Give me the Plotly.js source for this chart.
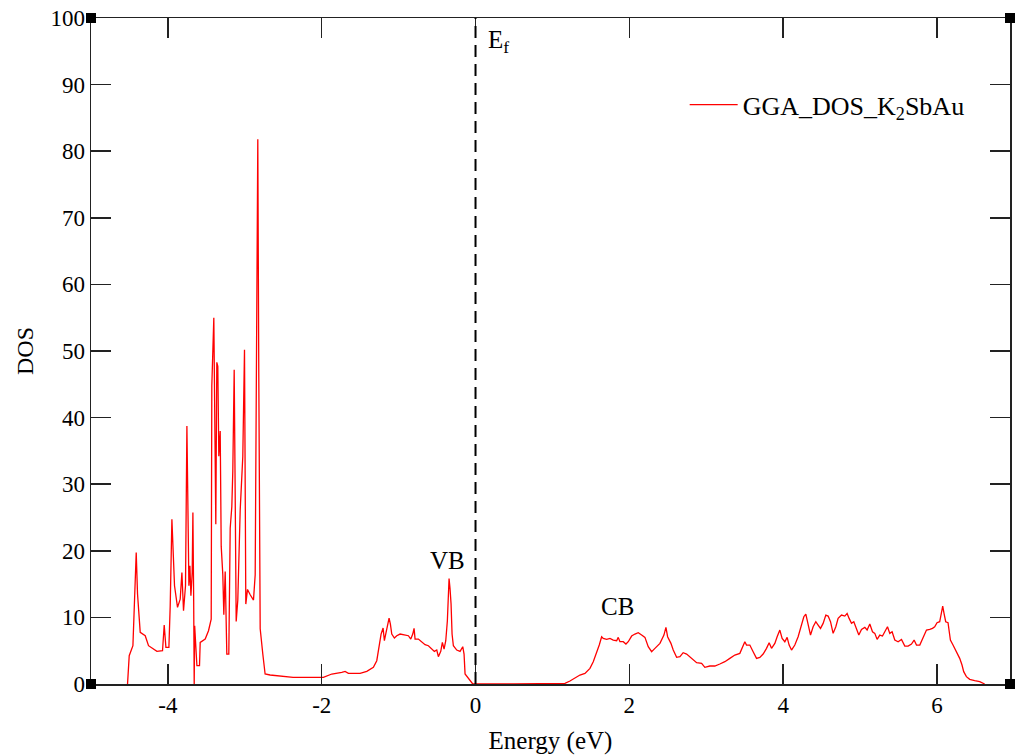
<!DOCTYPE html>
<html>
<head>
<meta charset="utf-8">
<script src="https://cdn.plot.ly/plotly-3.0.1.min.js"></script>
<style>
  html, body { margin: 0; padding: 0; background: #fff; }
  #chart { width: 1015px; height: 756px; }
</style>
</head>
<body>
<div id="chart"></div>
<script>
// Energy (eV) relative to Fermi level
const energy = [
  -4.525, -4.503, -4.455, -4.429, -4.412, -4.395, -4.360, -4.295, -4.252, -4.143,
  -4.070, -4.048, -4.026, -3.987, -3.970, -3.948, -3.935, -3.914, -3.875, -3.840,
  -3.818, -3.797, -3.771, -3.753, -3.740, -3.727, -3.714, -3.701, -3.684, -3.675,
  -3.665, -3.658, -3.652, -3.623, -3.589, -3.580, -3.515, -3.472, -3.437,
  -3.429, -3.403, -3.385, -3.377, -3.364, -3.351, -3.338, -3.320, -3.307, -3.286,
  -3.273, -3.255, -3.234, -3.208, -3.190, -3.169, -3.156, -3.138, -3.125, -3.112,
  -3.091, -3.060, -3.026, -3.004, -2.987, -2.965, -2.930, -2.887, -2.865, -2.844,
  -2.831, -2.818, -2.800, -2.766, -2.736, -2.671, -2.541, -2.372, -1.978, -1.913,
  -1.869, -1.739, -1.696, -1.653, -1.501, -1.414, -1.328, -1.284, -1.254, -1.228,
  -1.202, -1.185, -1.163, -1.146, -1.124, -1.107, -1.089, -1.055, -1.024, -0.981,
  -0.916, -0.873, -0.842, -0.816, -0.799, -0.786, -0.743, -0.699, -0.656, -0.613,
  -0.569, -0.535, -0.504, -0.483, -0.452, -0.431, -0.409, -0.387, -0.366, -0.344,
  -0.331, -0.318, -0.305, -0.288, -0.244, -0.201, -0.166, -0.149, -0.136, -0.094,
  -0.036, 0.500, 1.011,
  1.163, 1.228, 1.293, 1.358, 1.423, 1.488, 1.531, 1.575, 1.609, 1.640,
  1.661, 1.705, 1.748, 1.791, 1.835, 1.856, 1.878, 1.921, 1.956, 1.986,
  2.030, 2.073, 2.116, 2.160, 2.203, 2.246, 2.290, 2.333, 2.398, 2.450,
  2.476, 2.498, 2.541, 2.571, 2.615, 2.658, 2.700, 2.745, 2.810, 2.875,
  2.940, 2.982, 3.047, 3.112, 3.177, 3.242, 3.307, 3.372, 3.437, 3.502,
  3.524, 3.567, 3.610, 3.654, 3.697,
  3.740, 3.784, 3.818, 3.849, 3.892, 3.922, 3.957, 3.987, 4.022, 4.052,
  4.078, 4.109, 4.152, 4.195, 4.239, 4.269, 4.295, 4.325, 4.356, 4.390,
  4.425, 4.455, 4.486, 4.520, 4.555, 4.585, 4.616, 4.650, 4.685, 4.715,
  4.759, 4.802, 4.832, 4.858, 4.889, 4.919, 4.954, 4.984, 5.019, 5.062,
  5.092, 5.127, 5.162, 5.192, 5.222, 5.257, 5.292, 5.322, 5.357, 5.387,
  5.417, 5.452, 5.495, 5.539, 5.582, 5.625, 5.669, 5.703, 5.734, 5.777,
  5.820, 5.864, 5.907, 5.942, 5.971, 6.001, 6.036, 6.058, 6.075, 6.092,
  6.114, 6.144, 6.175, 6.209, 6.253, 6.296, 6.326, 6.348, 6.383, 6.426,
  6.491, 6.556, 6.621
];

// Density of states
const dos = [
  0, 4.25, 5.75, 14.75, 19.75, 13.5, 7.75, 7.25, 5.75, 4.9,
  5.0, 8.85, 5.5, 5.5, 11.75, 24.75, 19.75, 14.75, 11.5, 12.75,
  16.75, 11.0, 14.75, 38.75, 26.75, 14.75, 17.75, 13.25, 16.75, 25.75,
  12.75, 0, 8.75, 2.75, 2.75, 6.25, 6.75, 8.0, 9.75,
  44.8, 55.0, 37.5, 24.0, 48.3, 47.7, 34.2, 38.0, 20.7, 16.4,
  10.4, 16.9, 4.5, 4.5, 23.4, 26.6, 32.0, 47.2, 28.3, 9.4,
  12.6, 26.1, 34.2, 50.2, 12.0, 14.2, 13.4, 12.6, 16.4, 50.2,
  81.8, 46.1, 8.3, 4.5, 1.5, 1.35, 1.15, 1.0, 1.0, 1.25,
  1.5, 1.75, 1.9, 1.6, 1.6, 1.9, 2.5, 3.5, 5.5, 7.5,
  8.4, 6.5, 7.75, 8.5, 9.9, 9.0, 7.5, 6.9, 7.25, 7.5,
  7.4, 7.25, 6.75, 7.5, 8.35, 6.75, 6.75, 6.25, 5.9, 5.75,
  5.25, 4.9, 5.1, 4.1, 4.9, 6.25, 5.25, 6.5, 9.5, 15.85,
  14.25, 12.0, 7.5, 5.75, 5.1, 4.9, 5.6, 4.5, 1.5, 0.9,
  0, 0, 0,
  0.1, 0.45, 0.85, 1.35, 1.6, 2.35, 3.35, 4.6, 5.85, 7.1,
  6.85, 6.7, 6.85, 6.6, 6.5, 7.0, 6.35, 6.35, 6.0, 6.35,
  7.2, 7.5, 7.7, 7.35, 7.0, 5.6, 4.85, 5.35, 6.1, 7.35,
  8.5, 7.1, 6.1, 5.1, 4.0, 4.1, 4.7, 4.5, 3.85, 3.2,
  3.1, 2.5, 2.7, 2.7, 3.0, 3.35, 3.85, 4.35, 4.6, 6.35,
  5.85, 5.85, 4.85, 3.85, 4.0,
  4.5, 5.35, 6.2, 5.35, 6.1, 7.1, 8.1, 6.85, 6.35, 7.0,
  5.85, 5.1, 5.85, 7.1, 9.1, 10.1, 10.5, 9.1, 7.35, 8.6,
  9.35, 8.85, 8.35, 9.1, 10.35, 10.2, 9.35, 7.6, 8.6, 9.85,
  10.35, 10.2, 10.6, 9.85, 9.1, 9.35, 8.1, 7.35, 8.2, 8.5,
  8.1, 9.0, 7.85, 7.6, 6.7, 7.35, 7.2, 7.85, 8.6, 7.6,
  7.85, 6.6, 6.35, 6.7, 5.7, 5.7, 6.0, 6.6, 5.85, 5.85,
  7.1, 8.1, 8.2, 8.35, 8.6, 9.2, 9.35, 10.6, 11.7, 10.6,
  9.35, 9.2, 6.6, 5.85, 4.85, 3.85, 2.85, 1.85, 1.1, 0.7,
  0.5, 0.35, 0
];

const xTicks = [-4, -2, 0, 2, 4, 6];
const yTicks = [0, 10, 20, 30, 40, 50, 60, 70, 80, 90, 100];
const seriesName = 'GGA_DOS_K<sub>2</sub>SbAu';
const fermiEnergy = 0;
const labels = [
  {text: 'E<sub>f</sub>', x: 0.14, y: 96.5, anchor: 'left'},
  {text: 'VB', x: -0.37, y: 18.6, anchor: 'center'},
  {text: 'CB', x: 1.84, y: 11.6, anchor: 'center'}
];

const serif = 'Liberation Serif, Times New Roman, serif';

const trace = {
  x: energy, y: dos, type: 'scatter', mode: 'lines',
  name: seriesName,
  line: {color: '#ff0000', width: 1.3}
};

function cornerSquare(px, py) {
  return {
    type: 'rect', xref: 'paper', yref: 'paper',
    xsizemode: 'pixel', ysizemode: 'pixel',
    xanchor: px, yanchor: py,
    x0: -5, x1: 5, y0: -5, y1: 5,
    fillcolor: '#000', line: {width: 0}, layer: 'above'
  };
}

const axisCommon = {
  showline: true, linecolor: '#222', linewidth: 1.5,
  mirror: 'ticks', ticks: 'inside', ticklen: 20, tickwidth: 1.5, tickcolor: '#222',
  showgrid: false, zeroline: false,
  tickfont: {family: serif, size: 23, color: '#000'}
};

const layout = {
  width: 1015, height: 756,
  margin: {l: 91, r: 5, t: 18, b: 72},
  paper_bgcolor: '#fff', plot_bgcolor: '#fff',
  showlegend: true,
  legend: {
    x: 0.646, y: 0.905, xanchor: 'left', yanchor: 'top',
    itemwidth: 48,
    bgcolor: 'rgba(0,0,0,0)', borderwidth: 0,
    font: {family: serif, size: 26, color: '#000'}
  },
  xaxis: Object.assign({}, axisCommon, {
    range: [-5, 6.95], tickmode: 'array', tickvals: xTicks,
    ticktext: xTicks.map(String),
    title: {text: 'Energy (eV)', font: {family: serif, size: 25, color: '#000'}, standoff: 14}
  }),
  yaxis: Object.assign({}, axisCommon, {
    range: [0, 100], tickmode: 'array', tickvals: yTicks,
    ticktext: yTicks.map(String),
    title: {text: 'DOS', font: {family: serif, size: 24, color: '#000'}, standoff: 10}
  }),
  shapes: [
    {type: 'line', xref: 'x', yref: 'paper', x0: fermiEnergy, x1: fermiEnergy, y0: 0, y1: 1,
     line: {color: '#000', width: 2, dash: '12px,7px'}},
    cornerSquare(0, 0), cornerSquare(1, 0), cornerSquare(0, 1), cornerSquare(1, 1)
  ],
  annotations: labels.map(l => ({
    text: l.text, x: l.x, y: l.y, xref: 'x', yref: 'y',
    xanchor: l.anchor, yanchor: 'middle', showarrow: false,
    font: {family: serif, size: 25, color: '#000'}
  }))
};

Plotly.newPlot('chart', [trace], layout, {displayModeBar: false, staticPlot: true});
</script>
</body>
</html>
